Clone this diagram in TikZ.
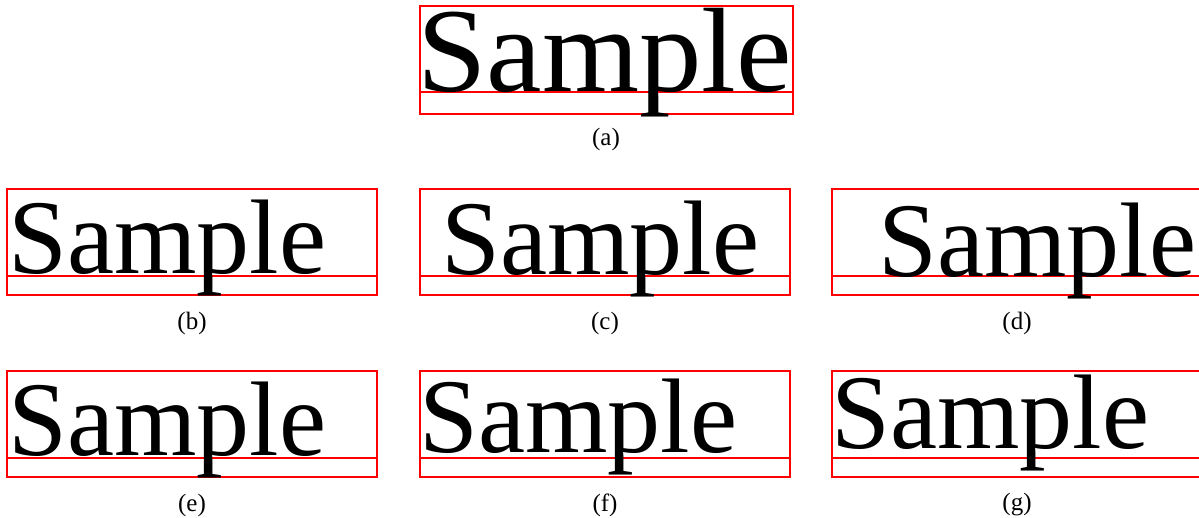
\documentclass[tikz,border=0pt]{standalone}
\usepackage{fontspec}
\setmainfont{Liberation Serif}
\usetikzlibrary{positioning}

\begin{document}
\begin{tikzpicture}[x=1pt,y=-1pt,
    frame/.style={draw=red, line width=1.8pt, minimum width=370pt, minimum height=106pt, inner sep=0pt},
    word/.style={inner sep=0pt, anchor=base west, font=\fontsize{106}{106}\selectfont},
    sublabel/.style={inner sep=0pt, font=\fontsize{25}{25}\selectfont}]
    \useasboundingbox (0,0) rectangle (1199,518);
    % top panel
    \node[frame, minimum width=373pt, minimum height=108pt] (fa) at (606.5,60) {};
    \coordinate (ba) at (420,92);
    \draw[red, line width=1.8pt] (ba) -- (ba -| fa.east);
    \node[word, font=\fontsize{120}{120}\selectfont] (ta) at (417,92) {\scalebox{1.04}[1]{Sample}};
    \node[sublabel] (ca) at (606,139) {(a)};
    % six smaller panels
    \foreach \n/\x/\y/\tx/\ty in {b/192/242/8/274, c/605/242/441/275, d/1017/242/878/277,
                                  e/192/424/8/455, f/605/424/419/452, g/1017/424/831/448} {
        \node[frame] (f\n) at (\x,\y) {};
        \coordinate (b\n) at (\x-185,\y+34);
        \draw[red, line width=1.8pt] (b\n) -- (b\n -| f\n.east);
        \node[word] (t\n) at (\tx,\ty) {Sample};
        \node[sublabel] (c\n) at (\x,\y+81) {(\n)};
    }
\end{tikzpicture}
\end{document}
